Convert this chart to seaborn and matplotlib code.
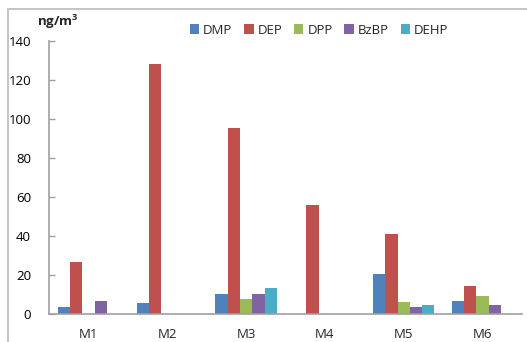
import matplotlib
matplotlib.use("Agg")
import matplotlib.pyplot as plt
import seaborn as sns
import pandas as pd
from matplotlib.patches import Rectangle

sites = ["M1", "M2", "M3", "M4", "M5", "M6"]
compounds = ["DMP", "DEP", "DPP", "BzBP", "DEHP"]
DMP = [3.7, 5.5, 10.3, 0, 20.5, 6.8]
DEP = [26.5, 128, 95.5, 56, 41, 14.5]
DPP = [0, 0, 7.9, 0, 6.2, 9.1]
BzBP = [6.8, 0, 10.3, 0, 3.7, 4.4]
DEHP = [0, 0, 13.3, 0, 4.4, 0]
colors = ["#4F81BD", "#C0504D", "#9BBB59", "#8064A2", "#4BACC6"]
yticks = [0, 20, 40, 60, 80, 100, 120, 140]

series = {"DMP": DMP, "DEP": DEP, "DPP": DPP, "BzBP": BzBP, "DEHP": DEHP}
rows = []
for c in compounds:
    for s, v in zip(sites, series[c]):
        rows.append({"site": s, "compound": c, "value": v})
df = pd.DataFrame(rows)

sns.set_theme(style="white")
plt.rcParams["font.family"] = ["Open Sans", "DejaVu Sans"]
plt.rcParams["mathtext.fontset"] = "custom"
plt.rcParams["mathtext.bf"] = "Open Sans:bold"
plt.rcParams["mathtext.rm"] = "Open Sans"

fig = plt.figure(figsize=(5.27, 3.42), dpi=100)
ax = fig.add_axes([49/527, 28/342, 473/527, 273/342])

sns.barplot(data=df, x="site", y="value", hue="compound", order=sites,
            hue_order=compounds, palette=colors, width=0.78, linewidth=0,
            saturation=1, ax=ax, legend=True)

ax.set_ylim(0, 140)
ax.set_xlim(-0.5, 5.5)
ax.set_yticks(yticks)
ax.set_yticklabels([str(t) for t in yticks], fontsize=9.5, color="#000000")
ax.set_xlabel("")
ax.set_ylabel("")
for lbl in ax.get_xticklabels():
    lbl.set_fontsize(9.5)
for side in ["top", "right"]:
    ax.spines[side].set_visible(False)
for side in ["left", "bottom"]:
    ax.spines[side].set_color("#A0A0A0")
    ax.spines[side].set_linewidth(1.2)
ax.tick_params(axis="y", direction="in", length=4, width=1, color="#A0A0A0", pad=13, left=True)
ax.tick_params(axis="x", length=0, pad=10)

handles, labels = ax.get_legend_handles_labels()
ax.legend(handles, labels, loc="center", bbox_to_anchor=(0.571, 1.04), ncol=5,
          frameon=False, fontsize=9.5, handlelength=0.7, handleheight=0.7,
          handletextpad=0.3, columnspacing=0.9, borderaxespad=0)

fig.text(37/527, 1 - 22/342, r"ng/m$^\mathbf{3}$", fontsize=9.5, fontweight="bold",
         va="center", ha="left")

fig.patches.append(Rectangle((8/527, -0.05), 1.2, 1 - 9/342 + 0.05, transform=fig.transFigure,
                             fill=False, edgecolor="#BFBFBF", linewidth=1.3))

fig.savefig("out.png", dpi=100)
